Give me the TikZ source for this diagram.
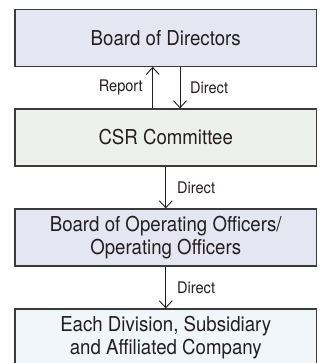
\documentclass[tikz,border=0pt]{standalone}
\usepackage{fontspec}
\setmainfont[FakeStretch=0.91]{TeX Gyre Heros}
\usetikzlibrary{arrows.meta}
\definecolor{txt}{HTML}{231F20}
\definecolor{bordc}{HTML}{3C3A3B}
\definecolor{lav}{HTML}{E6E6F2}
\definecolor{grayf}{HTML}{EEF0EE}
\definecolor{bluef}{HTML}{F1F6FA}
\tikzset{
  box/.style={draw=bordc, line width=1.2pt, minimum width=301.5pt, minimum height=57pt,
    inner sep=0pt, align=center, text=txt, font=\fontsize{20.5}{23.5}\selectfont},
  conn/.style={draw=txt, line width=0.9pt, -{Straight Barb[length=7pt,width=13pt,line width=0.9pt]}},
  lbl/.style={inner sep=0pt, text=txt, font=\fontsize{16}{18}\selectfont}
}
\begin{document}
\begin{tikzpicture}[x=1pt,y=-1pt]
\path[use as bounding box, clip] (0,0) rectangle (325,363);
\fill[white] (0,0) rectangle (325,363);
\node[box, fill=lav] (bod) at (165.75,37.75) {Board of Directors};
\node[box, fill=grayf] (csr) at (165.75,137.5) {CSR Committee};
\node[box, fill=lav] (boo) at (165.75,237.5) {Board of Operating Officers/\\Operating Officers};
\node[box, fill=bluef] (div) at (165.75,337.5) {Each Division, Subsidiary\\and Affiliated Company};
\draw[conn] (csr.north -| 152.7,0) -- (bod.south -| 152.7,0);
\draw[conn] (bod.south -| 180,0) -- (csr.north -| 180,0);
\draw[conn] (csr) -- (boo);
\draw[conn] (boo) -- (div);
\node[lbl, anchor=east] (rep) at (143,87.5) {Report};
\node[lbl, anchor=west] (d1) at (190,87.5) {Direct};
\node[lbl, anchor=west] (d2) at (177,187.5) {Direct};
\node[lbl, anchor=west] (d3) at (177,287.5) {Direct};
\end{tikzpicture}
\end{document}
